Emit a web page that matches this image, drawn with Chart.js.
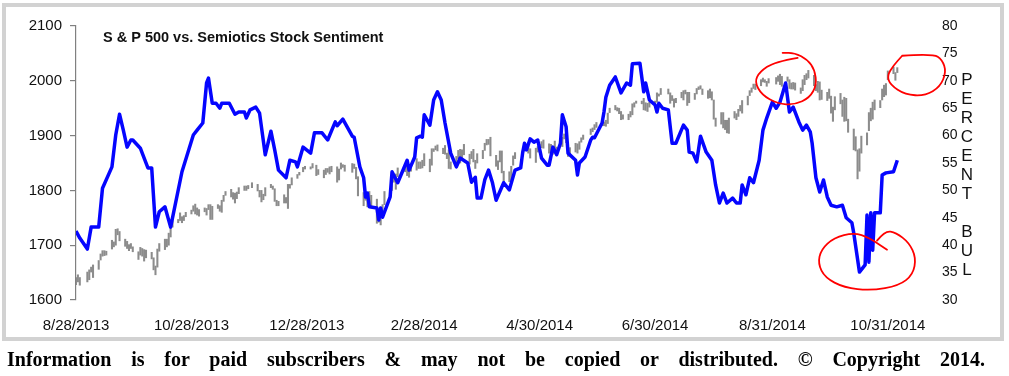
<!DOCTYPE html>
<html>
<head>
<meta charset="utf-8">
<script src="https://cdn.jsdelivr.net/npm/chart.js@4.4.1/dist/chart.umd.min.js"></script>
<style>
  html, body { margin: 0; padding: 0; background: #fff; width: 1009px; height: 376px; overflow: hidden; }
  #frame { position: absolute; left: 2px; top: 3px; width: 994px; height: 330px; border: 4px solid #d2d2d2; }
  #c { position: absolute; left: 0; top: 0; }
  #note { position: absolute; left: 7px; top: 349px; width: 978px; font: bold 20px "Liberation Serif", "DejaVu Serif", serif; line-height: 20px; color: #000; text-align: justify; text-align-last: justify; white-space: nowrap; }
</style>
</head>
<body>
<div id="frame"></div>
<canvas id="c" width="1009" height="376"></canvas>
<div id="note">Information is for paid subscribers &amp; may not be copied or distributed. © Copyright 2014.</div>
<script>
// ---- Data ----
const chartTitle = 'S & P 500 vs. Semiotics Stock Sentiment';
const rightAxisTitle = 'PERCENT BUL';
const tickDates  = ['2013-08-28','2013-10-28','2013-12-28','2014-02-28','2014-04-30','2014-06-30','2014-08-31','2014-10-31'];
const tickLabels = ['8/28/2013','10/28/2013','12/28/2013','2/28/2014','4/30/2014','6/30/2014','8/31/2014','10/31/2014'];
const holidays = ['2013-09-02','2013-11-28','2013-12-25','2014-01-01','2014-01-20','2014-02-17','2014-04-18','2014-05-26','2014-07-04','2014-09-01'];
const firstDate = '2013-08-28';
const lastDate = '2014-11-05';

// S&P 500 daily low / high (one value per trading day, Aug 28 2013 - Nov 5 2014)
const spxLow = [
  1628,1633,1627,
  1633,1637,1651,1641,1656,1673,1680,1681,1682,1693,1697,1700,1719,1708,1698,1694,1690,1694,1688,1674,
  1682,1680,1671,1677,1675,1655,1646,1660,1689,1692,1697,1700,1715,1733,1741,1745,1741,1745,1752,1757,1762,1757,1755,
  1753,1761,1755,1765,1747,1747,1767,1762,1760,1780,1791,1788,1784,1777,1785,1794,1800,1800,1803,1805,
  1799,1788,1779,1783,1790,1805,1802,1780,1772,1772,1777,1777,1767,1804,1810,1822,1828,1834,1839,1839,1841,
  1827,1829,1823,1829,1833,1830,1834,1815,1819,1839,1842,1835,1833,1840,1821,1790,1772,1782,1770,1778,1771,
  1740,1742,1737,1753,1774,1791,1800,1815,1802,1825,1834,1827,1824,1835,1837,1840,1840,1841,1845,
  1834,1846,1871,1874,1872,1867,1866,1858,1840,1839,1842,1858,1850,1858,1865,1848,1858,1852,1840,1850,1858,
  1873,1883,1884,1863,1844,1838,1852,1832,1814,1816,1816,1846,1858,1863,1872,1875,1868,1859,1851,1870,1870,
  1878,1877,1868,1867,1866,1870,1867,1880,1894,1887,1862,1864,1870,1868,1875,1888,1893,1902,1907,1911,1915,
  1918,1918,1917,1922,1942,1947,1945,1940,1929,1930,1929,1934,1938,1952,1959,1958,1947,1946,1944,1952,1956,
  1961,1972,1975,1976,1959,1964,1952,1960,1969,1965,1976,1955,1960,1966,1976,1984,1985,1975,1968,1969,1965,1930,
  1917,1921,1914,1911,1905,1904,1932,1929,1935,1945,1941,1956,1973,1979,1986,1984,1991,1998,1997,1990,1996,
  1994,1999,1993,1990,1999,1986,1985,1985,1983,1977,1982,1993,2002,2005,1991,1982,1979,1965,1966,1964,1968,
  1941,1926,1947,1958,1935,1926,1927,1906,1874,1872,1821,1835,1868,1883,1909,1927,1930,1947,1951,1965,1971,1974,2002,
  2013,2001,2015
];
const spxHigh = [
  1641,1646,1641,
  1651,1655,1660,1664,1672,1684,1690,1690,1689,1709,1706,1729,1730,1725,1711,1707,1701,1703,1697,1688,
  1696,1694,1692,1691,1687,1677,1662,1693,1703,1711,1711,1722,1733,1745,1747,1759,1752,1754,1760,1764,1772,1775,1768,
  1765,1768,1767,1774,1774,1771,1774,1772,1782,1791,1798,1802,1796,1795,1797,1805,1808,1808,1809,1814,
  1811,1800,1800,1793,1805,1811,1808,1803,1782,1780,1792,1787,1811,1811,1823,1829,1833,1842,1844,1843,1849,
  1846,1838,1837,1840,1840,1843,1844,1843,1839,1850,1847,1846,1849,1848,1842,1825,1796,1793,1788,1798,1791,
  1784,1759,1755,1774,1798,1800,1823,1826,1830,1841,1843,1847,1842,1847,1858,1852,1852,1855,1867,
  1857,1876,1876,1881,1883,1877,1882,1868,1874,1852,1862,1873,1875,1874,1884,1866,1871,1875,1855,1867,1873,
  1886,1893,1893,1897,1864,1854,1872,1872,1835,1834,1844,1863,1869,1872,1884,1880,1882,1876,1877,1880,1884,
  1889,1892,1885,1884,1879,1890,1879,1897,1903,1898,1888,1878,1886,1885,1889,1896,1901,1912,1914,1920,1924,
  1925,1925,1928,1941,1950,1955,1951,1950,1944,1938,1939,1944,1958,1960,1963,1963,1968,1960,1959,1961,1963,
  1978,1976,1986,1985,1978,1973,1967,1968,1979,1982,1983,1979,1979,1977,1986,1989,1991,1985,1982,1985,1980,1965,
  1932,1942,1942,1928,1928,1932,1944,1940,1948,1955,1964,1972,1982,1987,1994,1994,2002,2005,2002,1999,2004,
  2006,2009,2012,2008,2007,2002,1996,1997,1996,1987,2002,2010,2013,2019,2010,1993,1999,1998,1983,1979,1985,
  1972,1952,1971,1977,1965,1970,1968,1930,1912,1898,1874,1876,1899,1905,1942,1950,1961,1965,1964,1985,1992,1995,2018,
  2025,2015,2024
];

// Sentiment (percent bullish): day offset from 8/28/2013 and value
const sentDays = [
  0,2,6,8,12,14,19,21,23,25,
  27,29,30,34,35,38,40,42,44,47,
  50,56,62,64,67,69,70,72,74,76,
  77,81,84,86,89,90,92,95,97,100,
  103,105,107,111,113,116,117,120,124,126,
  130,133,137,138,141,146,147,150,152,153,
  154,155,159,160,161,162,166,167,170,175,
  176,179,180,182,183,184,187,189,191,193,
  195,198,201,203,207,209,211,212,214,216,
  218,220,222,226,229,232,235,236,237,238,
  240,242,244,246,249,250,252,254,256,257,
  259,260,264,265,266,269,272,273,274,278,
  279,280,282,285,288,291,293,294,298,300,
  301,303,306,307,308,310,313,315,317,321,
  323,324,326,328,330,333,336,338,340,342,
  344,347,349,351,352,354,356,358,361,363,
  365,368,370,372,375,377,379,382,384,386,
  388,389,391,393,395,397,399,402,405,407,
  410,411,414,417,418,419,420,421,422,425,
  426,428,432,434
];
const sentValues = [
  42.6,41.3,39.3,43.3,43.3,50.4,54.3,60.1,63.9,61.0,
  57.9,59.2,59.2,57.7,56.8,54.1,54.1,43.3,46.1,47.0,
  43.3,53.4,60.1,61.0,62.3,69.6,70.5,65.9,65.9,65.0,
  65.9,65.9,63.9,64.3,64.3,63.2,64.7,65.2,64.1,56.5,
  60.8,57.4,53.7,52.3,55.5,55.2,54.3,57.9,56.8,60.5,
  60.5,59.2,62.5,61.8,63.0,59.9,59.7,54.3,52.3,48.8,
  49.5,47.0,46.8,44.6,46.8,45.1,48.8,53.4,51.4,55.5,
  53.7,56.1,59.6,59.9,59.7,63.8,61.9,66.5,68.0,66.5,
  62.3,56.8,54.3,55.9,55.0,51.5,52.4,48.6,48.6,51.9,
  53.7,51.5,48.2,51.4,50.1,53.7,54.1,56.8,58.6,57.4,
  59.4,58.8,59.2,55.9,54.6,54.6,57.9,56.5,58.6,63.8,
  61.6,56.8,55.5,52.8,55.0,56.1,59.2,59.7,59.6,62.3,
  64.3,67.0,69.2,70.7,67.8,69.6,69.2,73.1,73.2,68.0,
  69.6,66.5,65.6,64.3,65.9,65.0,64.7,58.6,58.6,61.9,
  61.0,57.0,56.8,55.2,59.9,57.0,55.5,51.0,47.7,49.5,
  47.7,48.6,47.7,47.7,51.0,49.2,52.3,51.4,55.5,61.0,
  63.2,66.1,65.0,66.1,69.6,64.3,65.2,62.5,61.0,61.9,
  60.7,58.6,52.3,49.7,51.9,48.8,47.3,47.0,47.3,45.0,
  44.1,42.2,35.1,36.4,45.5,36.9,45.9,39.1,45.9,45.9,
  52.8,53.2,53.4,55.5
];

// Hand-drawn red annotations: anchor in data units, stroke shape as pixel offsets
const annotations = [
  { day: 375, value: 2000, axis: 'y', pts: [[12,-23],[-11,-19],[-26,-9],[-31,1],[-24,14],[-8,23],[9,24],[24,17],[31,4],[29,-11],[22,-21],[9,-28],[-3,-28]] },
  { day: 444, value: 2011, axis: 'y', pts: [[-14,-19],[17,-21],[26,-15],[30,-3],[24,12],[9,21],[-11,20],[-26,10],[-29,1],[-23,-9],[-14,-19]] },
  { day: 418, value: 37, axis: 'y2', pts: [[10,-21],[18,-31],[29,-29],[42,-19],[49,-4],[46,13],[32,24],[4,29],[-23,26],[-42,16],[-49,2],[-46,-12],[-33,-24],[-13,-29],[2,-24],[20,-12]] }
];

// ---- Build ----
const DAY = 86400000;
const t0 = Date.parse(firstDate);
const nDays = (Date.parse(lastDate) - t0) / DAY;
const tradingDays = [];
for (let d = 0; d <= nDays; d++) {
  const dt = new Date(t0 + d * DAY);
  const wd = dt.getUTCDay();
  const iso = dt.toISOString().slice(0, 10);
  if (wd !== 0 && wd !== 6 && !holidays.includes(iso)) tradingDays.push(d);
}
const tickDays = tickDates.map(s => Math.round((Date.parse(s) - t0) / DAY));

const spxData = tradingDays.slice(0, spxLow.length).map((d, i) => ({ x: d, y: [spxLow[i], spxHigh[i]] }));
const sentData = sentDays.map((d, i) => ({ x: d, y: sentValues[i] }));

const decor = {
  id: 'decor',
  afterDraw(chart) {
    const c = chart.ctx;
    c.save();
    // title
    c.fillStyle = '#111';
    c.font = 'bold 14.5px "Liberation Sans", Arial, sans-serif';
    c.textBaseline = 'middle';
    c.textAlign = 'left';
    c.fillText(chartTitle, 103, 38);
    // right axis title, stacked letters
    c.font = '17px "Liberation Sans", Arial, sans-serif';
    c.textAlign = 'center';
    [...rightAxisTitle].forEach((ch, i) => { if (ch !== ' ') c.fillText(ch, 967, 80 + i * 19); });
    // red annotations
    c.strokeStyle = '#ff0000';
    c.lineWidth = 1.8;
    c.lineJoin = 'round';
    c.lineCap = 'round';
    annotations.forEach(a => {
      const cx = chart.scales.x.getPixelForValue(a.day);
      const cy = chart.scales[a.axis].getPixelForValue(a.value);
      const p = a.pts.map(q => [cx + q[0], cy + q[1]]);
      c.beginPath();
      c.moveTo(p[0][0], p[0][1]);
      for (let i = 1; i < p.length - 1; i++) {
        const mx = (p[i][0] + p[i + 1][0]) / 2, my = (p[i][1] + p[i + 1][1]) / 2;
        c.quadraticCurveTo(p[i][0], p[i][1], mx, my);
      }
      const l = p[p.length - 1];
      c.lineTo(l[0], l[1]);
      c.stroke();
    });
    c.restore();
  }
};

const tickFont = { family: '"Liberation Sans", Arial, sans-serif', size: 15 };

new Chart(document.getElementById('c'), {
  type: 'bar',
  data: {
    datasets: [
      { type: 'line', label: 'Sentiment', data: sentData, yAxisID: 'y2', borderColor: '#0505ff', borderWidth: 3.5, pointRadius: 0, tension: 0, order: 0, borderJoinStyle: 'round' },
      { type: 'bar', label: 'S&P 500', data: spxData, yAxisID: 'y', backgroundColor: '#8c8c8c', barThickness: 1.4, order: 1 }
    ]
  },
  options: {
    responsive: false,
    animation: false,
    devicePixelRatio: 1,
    layout: { padding: { top: 26, left: 0, right: 0, bottom: 0 } },
    plugins: { legend: { display: false }, tooltip: { enabled: false } },
    scales: {
      x: {
        type: 'linear', min: 0, max: 446, offset: false,
        afterBuildTicks: s => { s.ticks = tickDays.map(v => ({ value: v })); },
        afterFit: s => { s.height = 76; },
        ticks: { callback: v => tickLabels[tickDays.indexOf(v)], font: tickFont, color: '#111', padding: 9, maxRotation: 0, autoSkip: false },
        grid: { display: false, offset: false },
        border: { display: false }
      },
      y: {
        position: 'left', min: 1600, max: 2100,
        afterFit: s => { s.width = 76; },
        ticks: { stepSize: 100, font: tickFont, color: '#111', padding: 8, callback: v => String(v) },
        grid: { drawOnChartArea: false, tickLength: 6, color: '#808080', lineWidth: 1.2 },
        border: { display: true, color: '#808080', width: 1.2 }
      },
      y2: {
        position: 'right', min: 30, max: 80,
        afterFit: s => { s.width = 89; },
        ticks: { stepSize: 5, font: { family: '"Liberation Sans", Arial, sans-serif', size: 14 }, color: '#111', padding: 14, callback: v => String(v) },
        grid: { display: false },
        border: { display: false }
      }
    }
  },
  plugins: [decor]
});
</script>
</body>
</html>
